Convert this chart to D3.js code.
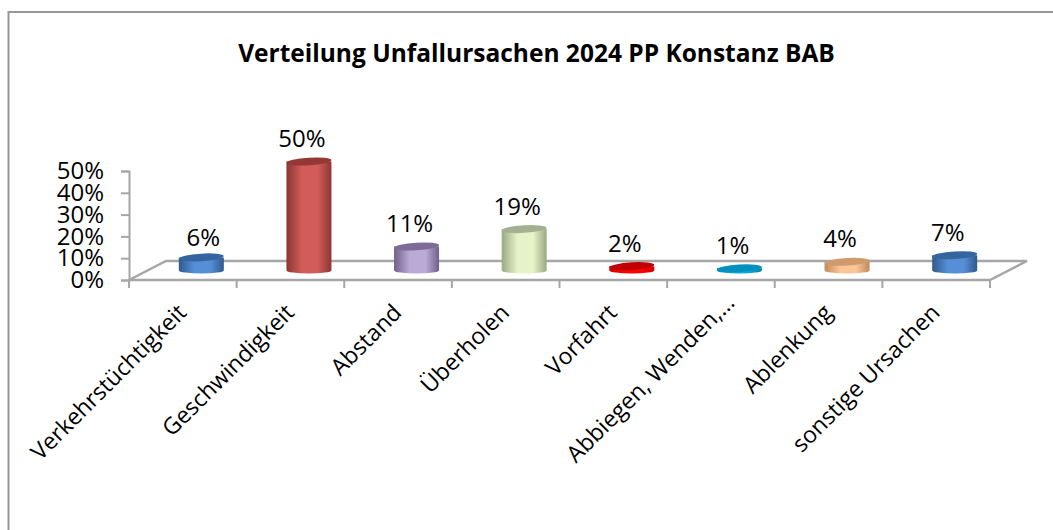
<!DOCTYPE html>
<html>
<head>
<meta charset="utf-8">
<script src="https://cdn.jsdelivr.net/npm/d3@7"></script>
<style>
  html, body { margin: 0; padding: 0; background: #fff; }
  svg { display: block; }
  text { font-family: "Open Sans", sans-serif; fill: #000; }
</style>
</head>
<body>
<svg></svg>
<script>
const categories = ['Verkehrstüchtigkeit', 'Geschwindigkeit', 'Abstand', 'Überholen', 'Vorfahrt', 'Abbiegen, Wenden,…', 'Ablenkung', 'sonstige Ursachen'];
const values = [0.06, 0.50, 0.11, 0.19, 0.02, 0.01, 0.04, 0.07];
const yTicks = [0, 0.1, 0.2, 0.3, 0.4, 0.5];
// side dark, middle light, top of the cylinder
const sideDark = ['#30598c', '#8c3634', '#6f5f8a', '#9aa883', '#d00000', '#0083ad', '#c08a5c', '#30598c'];
const sideLight = ['#568fd8', '#d25c5a', '#bcaad6', '#e6f2c8', '#ff0000', '#0aa8dc', '#fbc596', '#568fd8'];
const topColor = ['#35659f', '#953735', '#7d6c98', '#a4b092', '#c00000', '#0090bd', '#d09a6c', '#35659f'];

const width = 1053;
const height = 530;
const svg = d3.select('svg').attr('width', width).attr('height', height);

const x = d3.scaleBand().domain(categories).range([129, 990]);
const y = d3.scaleLinear().domain([0, 0.5]).range([280, 171]);
const depthX = 37;
const depthY = -19;
const barW = 45;
const ry = 3.8;
const tilt = -3.5;
const gray = '#a6a6a6';

// chart frame, open on the right and at the bottom
svg.append('path')
  .attr('d', 'M8.5,531V12H1054')
  .attr('fill', 'none').attr('stroke', '#969696').attr('stroke-width', 2);

svg.append('text')
  .attr('x', 536.5).attr('y', 62)
  .attr('text-anchor', 'middle')
  .attr('font-size', 24.5).attr('font-weight', 700)
  .text('Verteilung Unfallursachen 2024 PP Konstanz BAB');

// floor
svg.append('path')
  .attr('d', `M129,280L${129 + depthX},${280 + depthY}H${990 + depthX}L990,280Z`)
  .attr('fill', 'none').attr('stroke', gray).attr('stroke-width', 2.5);

// y axis
const yAxis = d3.axisLeft(y).tickValues(yTicks).tickFormat(d3.format('.0%')).tickSize(8).tickPadding(17);
const yG = svg.append('g').attr('transform', 'translate(129,0)').call(yAxis);
yG.select('.domain').attr('stroke', gray).attr('stroke-width', 2);
yG.selectAll('.tick line').attr('stroke', gray).attr('stroke-width', 2);
yG.selectAll('text').attr('font-size', 24).attr('font-family', '"Open Sans", sans-serif').attr('fill', '#000');

// x axis ticks
const xTickPos = d3.range(categories.length + 1).map(i => 129 + i * x.bandwidth());
svg.append('g').selectAll('line').data(xTickPos).join('line')
  .attr('x1', d => d).attr('x2', d => d)
  .attr('y1', 280).attr('y2', 288)
  .attr('stroke', gray).attr('stroke-width', 2);

// x labels, the cut off one ends further up the diagonal
svg.append('g').selectAll('text').data(categories).join('text')
  .attr('text-anchor', 'end')
  .attr('font-size', 23)
  .attr('transform', (d, i) => {
    const shift = i === 5 ? 10 : 0;
    return `translate(${x(d) + x.bandwidth() / 2 + 5 + shift},${314 - shift}) rotate(-45)`;
  })
  .text(d => d);

// gradients
const defs = svg.append('defs');
categories.forEach((c, i) => {
  const g = defs.append('linearGradient').attr('id', 'cyl' + i);
  g.append('stop').attr('offset', '0%').attr('stop-color', sideDark[i]);
  g.append('stop').attr('offset', '35%').attr('stop-color', sideLight[i]);
  g.append('stop').attr('offset', '70%').attr('stop-color', sideLight[i]);
  g.append('stop').attr('offset', '100%').attr('stop-color', sideDark[i]);
});

// cylinders
const bars = svg.append('g').selectAll('g').data(categories).join('g')
  .attr('transform', d => `translate(${x(d) + x.bandwidth() / 2 + depthX / 2},${depthY / 2})`);

bars.append('path')
  .attr('d', (d, i) => {
    const t = y(values[i]);
    return `M${-barW / 2},${t}V280A${barW / 2},3 0 0 0 ${barW / 2},280V${t}Z`;
  })
  .attr('fill', (d, i) => `url(#cyl${i})`);

bars.append('ellipse')
  .attr('cx', 0).attr('cy', (d, i) => y(values[i]))
  .attr('rx', barW / 2).attr('ry', ry)
  .attr('transform', (d, i) => `rotate(${tilt} 0 ${y(values[i])})`)
  .attr('fill', (d, i) => topColor[i]);

// value labels, the first one sits a bit further right and lower
bars.append('text')
  .attr('x', (d, i) => i === 0 ? 2 : -7)
  .attr('y', (d, i) => y(values[i]) - (i === 0 ? 11.5 : 14.5))
  .attr('text-anchor', 'middle')
  .attr('font-size', 24)
  .text((d, i) => d3.format('.0%')(values[i]));
</script>
</body>
</html>
